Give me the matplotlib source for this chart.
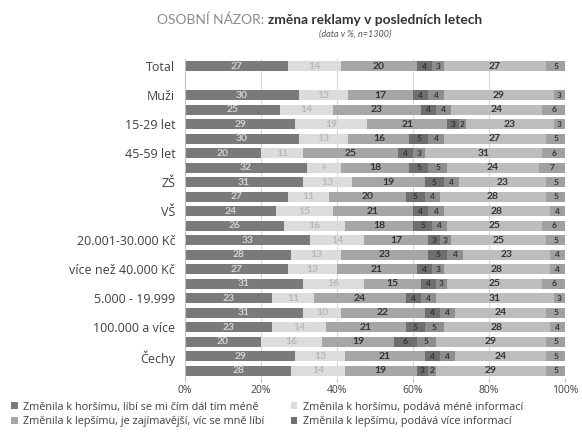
import numpy as np
import matplotlib
matplotlib.use('Agg')
from matplotlib import pyplot as plt
from matplotlib.patches import Patch

plt.rcParams['font.family'] = ['Lato', 'DejaVu Sans']

# categories, top to bottom ('' = spacer row after Total)
categories = ['Total', '', 'Muži', 'Ženy', '15-29 let', '30-44 let', '45-59 let', '60+ let',
              'ZŠ', 'SŠ', 'VŠ', 'do 20.000 Kč', '20.001-30.000 Kč', '30.001-40.000 Kč',
              'více než 40.000 Kč', 'do 4.999', '5.000 - 19.999', '20.000 - 99.999',
              '100.000 a více', 'Praha', 'Čechy', 'Morava']

series_names = ['Změnila k horšímu, líbí se mi čím dál tím méně',
                'Změnila k horšímu, podává méně informací',
                'Změnila k lepšímu, je zajímavější, víc se mně líbí',
                'Změnila k lepšímu, podává více informací',
                'Změnila se jinak',
                'Nezměnila se',
                'Nevím']

horsi_libi = [27, 0, 30, 25, 29, 30, 20, 32, 31, 27, 24, 26, 33, 28, 27, 31, 23, 31, 23, 20, 29, 28]
horsi_info = [14, 0, 13, 14, 19, 13, 11, 9, 13, 11, 15, 16, 14, 13, 13, 16, 11, 10, 14, 16, 13, 14]
lepsi_libi = [20, 0, 17, 23, 21, 16, 25, 18, 19, 20, 21, 18, 17, 23, 21, 15, 24, 22, 21, 19, 21, 19]
lepsi_info = [4, 0, 4, 4, 3, 5, 4, 5, 5, 5, 4, 5, 3, 5, 4, 4, 4, 4, 5, 6, 4, 3]
jinak = [3, 0, 4, 4, 2, 4, 3, 5, 4, 4, 4, 4, 3, 4, 3, 3, 4, 4, 5, 5, 4, 2]
nezmenila = [27, 0, 29, 24, 23, 27, 31, 24, 23, 28, 28, 25, 25, 23, 28, 25, 31, 24, 28, 29, 24, 29]
nevim = [5, 0, 3, 6, 3, 5, 6, 7, 5, 5, 4, 6, 5, 4, 4, 6, 3, 5, 4, 5, 5, 5]

series = [horsi_libi, horsi_info, lepsi_libi, lepsi_info, jinak, nezmenila, nevim]
colors = ['#7a7a7a', '#dcdcdc', '#a6a6a6', '#6e6e6e', '#8e8e8e', '#bdbdbd', '#a0a0a0']
text_colors = ['#d2d2d2', '#b8b8b8', '#333333', '#333333', '#333333', '#333333', '#333333']

fig = plt.figure(figsize=(5.82, 4.34), dpi=100)
ax = fig.add_axes([0.318, 0.129, 0.653, 0.735])

y = np.arange(len(categories))
left = np.zeros(len(categories))
for vals, col, tcol in zip(series, colors, text_colors):
    vals = np.array(vals, dtype=float)
    bars = ax.barh(y, vals, left=left, height=0.7, color=col, zorder=2)
    for b, v in zip(bars, vals):
        if v <= 0:
            continue
        fs = 7.5 if v >= 10 else 6
        ax.text(b.get_x() + b.get_width() / 2, b.get_y() + b.get_height() / 2, '%d' % v,
                ha='center', va='center', fontsize=fs, color=tcol, fontweight='bold', zorder=3)
    left += vals

ax.set_xlim(0, 100)
ax.set_ylim(len(categories) - 0.5, -0.5)
ax.set_yticks(y)
ax.set_yticklabels([c if i % 2 == 0 else '' for i, c in enumerate(categories)],
                   fontsize=9, color='#404040', family=['Open Sans', 'DejaVu Sans'])
ax.set_xticks([0, 20, 40, 60, 80, 100])
ax.set_xticklabels(['0%', '20%', '40%', '60%', '80%', '100%'], fontsize=7.5, color='#404040',
                   family=['Open Sans', 'DejaVu Sans'])
ax.tick_params(axis='y', length=0, pad=7)
ax.tick_params(axis='x', length=3, color='#bfbfbf', pad=2)
ax.xaxis.grid(True, color='#d9d9d9', linewidth=0.8, zorder=0)
for s in ['top', 'right', 'bottom']:
    ax.spines[s].set_visible(False)
ax.spines['left'].set_color('#bfbfbf')

# title: grey caps part + bold part
t1 = fig.text(0.27, 0.955, 'OSOBNÍ NÁZOR: ', fontsize=9.9, color='#8a8a8a', ha='left', va='center')
fig.canvas.draw()
bb = t1.get_window_extent()
x2 = bb.x1 / fig.bbox.width
fig.text(x2, 0.955, 'změna reklamy v posledních letech', fontsize=9.9, color='#333333',
         fontweight='bold', ha='left', va='center')
fig.text(0.61, 0.922, '(data v %, n=1300)', fontsize=6.5, style='italic', color='#555555',
         ha='center', va='center')

# legend fills row-wise: 1 2 / 3 4
order = [0, 2, 1, 3]
handles = [Patch(facecolor=colors[i], edgecolor='none') for i in order]
fig.legend(handles, [series_names[i] for i in order], ncol=2, loc='upper left',
           bbox_to_anchor=(0.003, 0.097), frameon=False,
           prop={'family': ['Open Sans', 'DejaVu Sans'], 'size': 7.8},
           handlelength=0.6, handleheight=0.6, handletextpad=0.5,
           columnspacing=2.4, labelspacing=0.3, labelcolor='#404040')

fig.savefig('out.png', dpi=100)
